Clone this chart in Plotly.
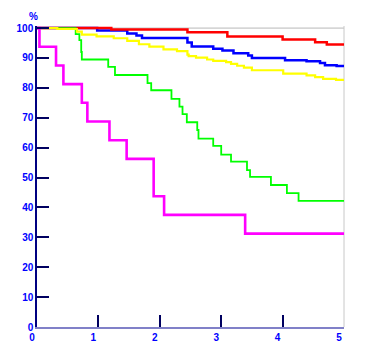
import plotly.graph_objects as go

FOLLOW_UP_END = 5.0

# Kaplan-Meier style step curves (time in years, survival %)
red_t = [0, 1.21, 2.45, 3.10, 4.00, 4.53, 4.72]
red_s = [100, 99.5, 98.6, 97.2, 96.2, 95.3, 94.5]

blue_t = [0, 0.98, 1.47, 1.62, 1.71, 2.45, 2.52, 2.87, 3.02, 3.20, 3.44, 3.50, 4.04, 4.39, 4.61, 4.69, 4.88]
blue_s = [100, 99.2, 98.2, 97.5, 96.7, 95.2, 93.8, 93.1, 92.5, 91.6, 90.8, 90.0, 89.2, 88.9, 88.3, 87.6, 87.3]

yellow_t = [0, 0.33, 0.65, 0.73, 0.97, 1.25, 1.47, 1.66, 1.83, 2.06, 2.28, 2.45, 2.47, 2.59, 2.77, 2.87,
            3.08, 3.16, 3.26, 3.37, 3.50, 4.01, 4.39, 4.53, 4.66, 4.87]
yellow_s = [100, 99.7, 98.8, 97.8, 97.2, 96.6, 95.7, 94.6, 93.8, 92.9, 92.3, 91.1, 90.6, 90.1, 89.5, 89.0,
            88.6, 88.0, 87.4, 86.8, 85.9, 84.8, 84.2, 83.6, 83.0, 82.7]

green_t = [0, 0.63, 0.69, 0.72, 0.73, 1.16, 1.27, 1.80, 1.86, 2.19, 2.32, 2.37, 2.44, 2.61, 2.63, 2.87,
           3.00, 3.16, 3.42, 3.47, 3.81, 4.07, 4.26]
green_s = [100, 98, 96, 92, 89.5, 87, 84.3, 81.6, 79.2, 76.3, 73.7, 71.2, 68.5, 65.9, 63, 60.6,
           57.7, 55.3, 52.5, 50.2, 47.5, 44.8, 42.2]

magenta_t = [0, 0.04, 0.31, 0.43, 0.73, 0.82, 1.18, 1.46, 1.90, 2.07, 3.39]
magenta_s = [100, 93.75, 87.5, 81.25, 75, 68.75, 62.5, 56.25, 43.75, 37.5, 31.25]

x_ticks = [0, 1, 2, 3, 4, 5]
y_ticks = [0, 10, 20, 30, 40, 50, 60, 70, 80, 90, 100]

series = [
    (blue_t, blue_s, "#0000ff", 2.5),
    (red_t, red_s, "#ff0000", 2.5),
    (green_t, green_s, "#00ff00", 1.8),
    (yellow_t, yellow_s, "#ffff00", 2.2),
    (magenta_t, magenta_s, "#ff00ff", 2.6),
]

fig = go.Figure()
for t, s, color, w in series:
    fig.add_trace(go.Scatter(
        x=t + [FOLLOW_UP_END], y=s + [s[-1]],
        mode="lines", line=dict(color=color, width=w, shape="hv"),
        showlegend=False, hoverinfo="skip",
    ))

tick_font = dict(family="Arial, Liberation Sans, sans-serif", size=10, color="#0000ff")

# The page body adds an 8px offset, so margins are compensated accordingly.
fig.update_layout(
    width=365, height=357,
    margin=dict(l=29, r=29, t=18, b=38, autoexpand=False),
    paper_bgcolor="white", plot_bgcolor="white",
    xaxis=dict(
        range=[0, 5], tickvals=x_ticks, ticktext=[f"<b>{v}</b>" for v in x_ticks],
        ticks="inside", ticklen=12, tickwidth=1.5, tickcolor="#000060",
        showline=True, linecolor="#8080c8", linewidth=2,
        showgrid=False, zeroline=False, tickfont=tick_font, ticklabelshift=-5,
    ),
    yaxis=dict(
        range=[0, 100.7], tickvals=y_ticks, ticktext=[f"<b>{v}</b>" for v in y_ticks],
        ticks="inside", ticklen=12, tickwidth=1.5, tickcolor="#000060",
        showline=True, linecolor="#000080", linewidth=1.5,
        showgrid=False, zeroline=False, tickfont=tick_font,
    ),
    shapes=[
        dict(type="line", xref="paper", yref="y", x0=0, x1=1, y0=100, y1=100,
             line=dict(color="#b8b8b8", width=1), layer="below"),
        dict(type="line", xref="paper", yref="paper", x0=1, x1=1, y0=0, y1=1,
             line=dict(color="#c8c8c8", width=1), layer="below"),
    ],
    annotations=[
        dict(text="<b>%</b>", xref="paper", yref="paper", x=0, y=1, xanchor="center",
             yanchor="bottom", xshift=-4, yshift=2, showarrow=False,
             font=dict(family="Arial, Liberation Sans, sans-serif", size=10, color="#0000ff")),
    ],
)

fig.write_html("out.html")
